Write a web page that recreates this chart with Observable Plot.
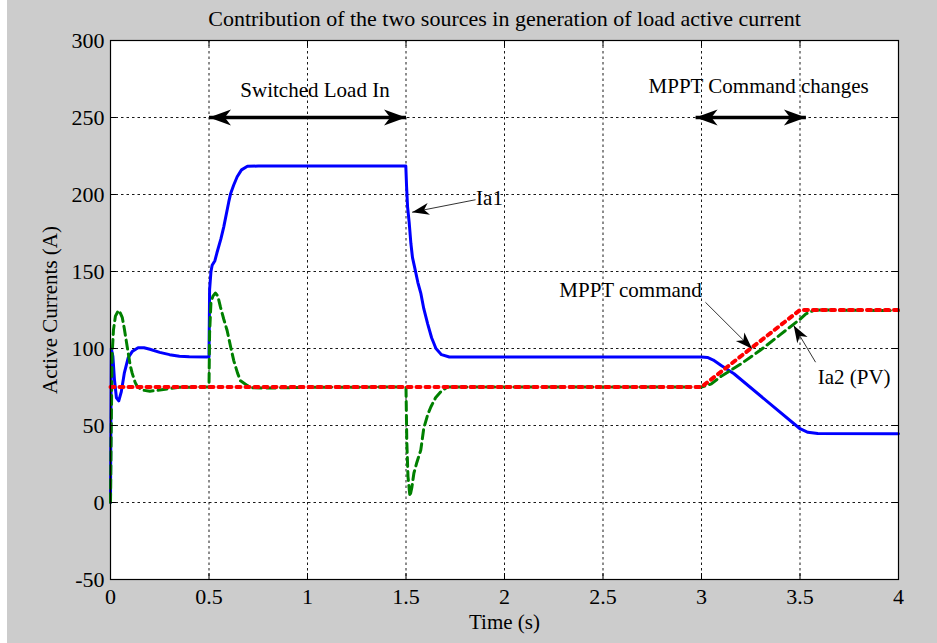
<!DOCTYPE html>
<html>
<head>
<meta charset="utf-8">
<script src="https://cdn.jsdelivr.net/npm/d3@7"></script>
<script src="https://cdn.jsdelivr.net/npm/@observablehq/plot@0.6"></script>
<style>
  html, body { margin: 0; padding: 0; background: #ffffff; }
  #chart { margin-left: 7px; width: 930px; height: 643px; }
  #chart svg { display: block; }
</style>
</head>
<body>
<div id="chart"></div>
<script>
// ---- Data ----
const xTicks = [0, 0.5, 1, 1.5, 2, 2.5, 3, 3.5, 4];
const yTicks = [-50, 0, 50, 100, 150, 200, 250, 300];

// Ia1 (blue, solid)
const ia1T = [0, 0.004, 0.012, 0.02, 0.03, 0.042, 0.055, 0.07, 0.09, 0.11, 0.14, 0.17, 0.2, 0.25, 0.3, 0.35, 0.4, 0.5,
  0.503, 0.51, 0.516, 0.53, 0.54, 0.56, 0.575, 0.6, 0.61, 0.625, 0.643, 0.665, 0.695, 0.75, 1.0, 1.3, 1.499,
  1.503, 1.508, 1.516, 1.525, 1.533, 1.545, 1.56, 1.575, 1.59, 1.61, 1.63, 1.652, 1.68, 1.72, 2.0, 2.5, 3.0,
  3.03, 3.06, 3.1, 3.165, 3.5, 3.54, 3.59, 4.0];
const ia1V = [0, 100, 95, 80, 68, 66, 72, 84, 94, 98, 100.5, 100.5, 99.5, 97.5, 96, 95, 94.6, 94.5,
  138, 150, 154, 157, 162, 171, 179, 195, 200.7, 206, 211.5, 216, 218.3, 218.5, 218.5, 218.5, 218.5,
  205, 192, 182, 168, 159, 152, 143, 136, 126, 116, 107, 100, 96, 94.5, 94.5, 94.5, 94.5,
  94.2, 92.5, 89, 83.6, 47.9, 45.6, 44.8, 44.6];

// Ia2 (PV) (green, dashed)
const ia2T = [0, 0.003, 0.008, 0.015, 0.025, 0.04, 0.05, 0.06, 0.07, 0.085, 0.1, 0.11, 0.125, 0.135, 0.16, 0.2, 0.25, 0.3, 0.35, 0.5,
  0.503, 0.51, 0.52, 0.533, 0.545, 0.558, 0.575, 0.592, 0.61, 0.626, 0.645, 0.66, 0.694, 0.72, 0.8, 1.0, 1.5,
  1.504, 1.51, 1.52, 1.53, 1.54, 1.555, 1.575, 1.59, 1.61, 1.626, 1.65, 1.677, 1.71, 2.0, 2.5, 3.0,
  3.05, 3.1, 3.2, 3.3, 3.4, 3.47, 3.5, 3.53, 3.57, 3.62, 4.0];
const ia2V = [0, 40, 95, 112, 121, 124.7, 123, 120, 113, 101, 89, 84, 78, 75.5, 73, 72.3, 73, 74, 74.8, 75,
  110, 130, 134, 136, 134, 127, 119, 111.7, 101, 92, 84, 79, 76, 74.5, 74.3, 74.8, 75,
  40, 17, 4, 10, 19, 26, 34, 48, 57, 62, 68, 72, 75, 75, 75, 75,
  77, 82, 90, 99, 109, 116, 119, 122.5, 124.8, 125, 124.6];

// MPPT command (red, dotted)
const cmdT = [0, 3.0, 3.5, 4.0];
const cmdV = [75, 75, 125, 125];

// Annotations
const titleText = "Contribution of the two sources in generation of load active current";
const xLabel = "Time (s)";
const yLabel = "Active Currents (A)";
const labelTexts = ["Switched Load In", "MPPT Command changes", "Ia1", "MPPT command", "Ia2 (PV)"];
const labelT = [1.038, 3.29, 1.924, 2.64, 3.775];
const labelV = [267.5, 270, 197.4, 137.7, 81.4];
// double-headed span arrows
const spanT1 = [0.5, 2.97];
const spanT2 = [1.5, 3.53];
const spanV = [250, 250];
// pointer arrows (tail -> tip)
const ptrT1 = [1.853, 3.020, 3.579];
const ptrV1 = [196.6, 130, 91.1];
const ptrT2 = [1.531, 3.257, 3.468];
const ptrV2 = [188.5, 99.8, 114.9];

// ---- Tables ----
const zip = (T, V) => T.map((t, i) => ({t, v: V[i]}));
const ia1 = zip(ia1T, ia1V);
const ia2 = zip(ia2T, ia2V);
const cmd = zip(cmdT, cmdV);
const labels = labelTexts.map((s, i) => ({s, t: labelT[i], v: labelV[i]}));
const spans = spanT1.map((t, i) => ({t1: t, t2: spanT2[i], v: spanV[i]}));
const ptrs = ptrT1.map((t, i) => ({t1: t, v1: ptrV1[i], t2: ptrT2[i], v2: ptrV2[i]}));

// MATLAB-like filled notched arrowhead marker
function headMarker(len, wid, reverse) {
  return (color, context) => {
    const doc = (context && context.document) || document;
    const ns = "http://www.w3.org/2000/svg";
    const m = doc.createElementNS(ns, "marker");
    m.setAttribute("viewBox", `${-len * 1.5} ${-len * 1.5} ${len * 3} ${len * 3}`);
    m.setAttribute("markerWidth", len * 3);
    m.setAttribute("markerHeight", len * 3);
    m.setAttribute("markerUnits", "userSpaceOnUse");
    m.setAttribute("refX", 0);
    m.setAttribute("refY", 0);
    m.setAttribute("orient", reverse ? "auto-start-reverse" : "auto");
    m.setAttribute("overflow", "visible");
    const p = doc.createElementNS(ns, "path");
    p.setAttribute("d", `M0,0L${-len},${-wid / 2}L${-len * 0.72},0L${-len},${wid / 2}Z`);
    p.setAttribute("fill", "black");
    p.setAttribute("stroke", "none");
    m.appendChild(p);
    return m;
  };
}

const W = 930, H = 643, mL = 103, mR = 39, mT = 40, mB = 64;
const plotW = W - mL - mR, plotH = H - mT - mB;
const FS = 21;

const chart = Plot.plot({
  width: W,
  height: H,
  marginLeft: mL,
  marginRight: mR,
  marginTop: mT,
  marginBottom: mB,
  style: {background: "#cccccc", fontFamily: "'Liberation Serif', 'Times New Roman', serif", fontSize: FS + "px", color: "black"},
  x: {domain: [0, 4]},
  y: {domain: [-50, 300]},
  marks: [
    Plot.frame({fill: "white", stroke: null}),
    Plot.gridX(xTicks, {stroke: "black", strokeOpacity: 0.9, strokeDasharray: "2.5,3", strokeWidth: 1}),
    Plot.gridY(yTicks, {stroke: "black", strokeOpacity: 0.9, strokeDasharray: "2.5,3", strokeWidth: 1}),
    Plot.line(ia1, {x: "t", y: "v", stroke: "#0000ff", strokeWidth: 3}),
    Plot.line(ia2, {x: "t", y: "v", stroke: "#008000", strokeWidth: 3, strokeDasharray: "9,5"}),
    Plot.line(cmd, {x: "t", y: "v", stroke: "#ff0000", strokeWidth: 4, strokeDasharray: "4,5"}),
    // inward ticks on all four sides
    Plot.tickX(xTicks, {x: d => d, stroke: "black", insetTop: plotH - 6}),
    Plot.tickX(xTicks, {x: d => d, stroke: "black", insetBottom: plotH - 6}),
    Plot.tickY(yTicks, {y: d => d, stroke: "black", insetRight: plotW - 6}),
    Plot.tickY(yTicks, {y: d => d, stroke: "black", insetLeft: plotW - 6}),
    Plot.frame({stroke: "black", strokeWidth: 1.2}),
    Plot.axisX(xTicks, {anchor: "bottom", tickSize: 0, tickPadding: 9, tickFormat: d => String(d), label: null, fontSize: FS + 1}),
    Plot.axisY(yTicks, {anchor: "left", tickSize: 0, tickPadding: 6, tickFormat: d => String(d), label: null, fontSize: FS + 1}),
    // titles
    Plot.text([titleText], {text: d => d, frameAnchor: "top", dy: -22, lineAnchor: "middle", fontSize: 22, fill: "black"}),
    Plot.text([xLabel], {text: d => d, frameAnchor: "bottom", dy: 43, lineAnchor: "middle", fontSize: FS, fill: "black"}),
    Plot.text([yLabel], {text: d => d, frameAnchor: "left", dx: -60, rotate: -90, textAnchor: "middle", lineAnchor: "middle", fontSize: FS, fill: "black"}),
    // annotations
    Plot.text(labels, {x: "t", y: "v", text: "s", lineAnchor: "middle", fontSize: FS, fill: "black"}),
    Plot.link(spans, {x1: "t1", y1: "v", x2: "t2", y2: "v", stroke: "black", strokeWidth: 3.5,
      markerStart: headMarker(22, 16, true), markerEnd: headMarker(22, 16, false)}),
    Plot.link(ptrs, {x1: "t1", y1: "v1", x2: "t2", y2: "v2", stroke: "#333333", strokeWidth: 1,
      markerEnd: headMarker(17, 12, false)})
  ]
});
document.getElementById("chart").appendChild(chart);
</script>
</body>
</html>
